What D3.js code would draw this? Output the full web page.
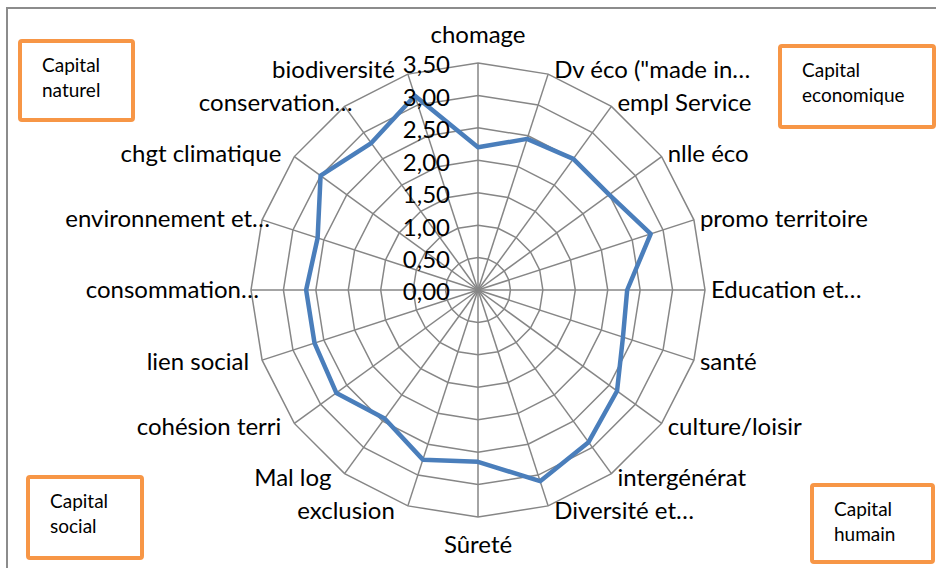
<!DOCTYPE html>
<html>
    <head>
        <style>
            body { margin: 0; background: #FFFFFF; }
            text { font-family: Lato, "Open Sans", sans-serif; fill: #000000; }
        </style>
    </head>
    <body>
        <script src="https://d3js.org/d3.v7.min.js"></script>
        <script type="text/javascript">
            // data
            var categories = ['chomage', 'Dv \u00e9co ("made in\u2026', 'empl Service', 'nlle \u00e9co',
                'promo territoire', 'Education et\u2026', 'sant\u00e9', 'culture/loisir', 'interg\u00e9n\u00e9rat',
                'Diversit\u00e9 et\u2026', 'S\u00fbret\u00e9', 'exclusion', 'Mal log', 'coh\u00e9sion terri',
                'lien social', 'consommation\u2026', 'environnement et\u2026', 'chgt climatique',
                'conservation\u2026', 'biodiversit\u00e9'];
            var scores = [2.2, 2.45, 2.5, 2.5, 2.8, 2.3, 2.35, 2.65, 2.9, 3.1,
                2.65, 2.75, 2.45, 2.7, 2.65, 2.65, 2.6, 3.0, 2.8, 3.15];
            var tickValues = [0, 0.5, 1, 1.5, 2, 2.5, 3, 3.5];
            var capitalNames = [['Capital', 'naturel'], ['Capital', 'economique'],
                ['Capital', 'social'], ['Capital', 'humain']];

            var svgWidth = 936, svgHeight = 568;
            var svg = d3.select('body')
                .append('svg')
                .attr('width', svgWidth)
                .attr('height', svgHeight);

            // chart frame (only its left and top edges are in view)
            svg.append('rect')
                .attr('x', 7).attr('y', 8)
                .attr('width', 960).attr('height', 600)
                .attr('fill', 'none')
                .attr('stroke', '#8C8C8C')
                .attr('stroke-width', 2);

            var cx = 478, cy = 290, outerRadius = 227;
            var labelSize = 24;
            var rScale = d3.scaleLinear().domain([0, 3.5]).range([0, outerRadius]);
            var angleScale = d3.scaleLinear().domain([0, categories.length]).range([0, 2 * Math.PI]);
            var frFormat = d3.formatLocale({ decimal: ',', thousands: ' ', grouping: [3], currency: ['', '\u20ac'] }).format('.2f');

            function pointAt(i, v) {
                var a = angleScale(i);
                return [cx + Math.sin(a) * rScale(v), cy - Math.cos(a) * rScale(v)];
            }

            var chart = svg.append('g');

            // rings
            chart.selectAll('.ring')
                .data(tickValues.filter(function (t) { return t > 0; }))
                .enter()
                .append('polygon')
                .attr('class', 'ring')
                .attr('points', function (t) {
                    return categories.map(function (c, i) { return pointAt(i, t).join(','); }).join(' ');
                })
                .attr('fill', 'none')
                .attr('stroke', '#868686')
                .attr('stroke-width', 1.5);

            // spokes
            chart.selectAll('.spoke')
                .data(categories)
                .enter()
                .append('line')
                .attr('class', 'spoke')
                .attr('x1', cx).attr('y1', cy)
                .attr('x2', function (c, i) { return pointAt(i, 3.5)[0]; })
                .attr('y2', function (c, i) { return pointAt(i, 3.5)[1]; })
                .attr('stroke', '#868686')
                .attr('stroke-width', 1.5);

            // series
            var line = d3.line().curve(d3.curveLinearClosed);
            chart.append('path')
                .attr('d', line(scores.map(function (v, i) { return pointAt(i, v); })))
                .attr('fill', 'none')
                .attr('stroke', '#4A7EBB')
                .attr('stroke-width', 4.5)
                .attr('stroke-linejoin', 'round');

            // value axis labels
            chart.selectAll('.tick')
                .data(tickValues)
                .enter()
                .append('text')
                .attr('class', 'tick')
                .attr('x', cx - 28)
                .attr('y', function (t) { return cy - rScale(t) + 2; })
                .attr('dy', '0.35em')
                .attr('text-anchor', 'end')
                .attr('font-size', labelSize)
                .text(frFormat);

            // category labels
            chart.selectAll('.cat')
                .data(categories)
                .enter()
                .append('text')
                .attr('class', 'cat')
                .attr('font-size', labelSize)
                .attr('dy', '0.35em')
                .each(function (c, i) {
                    var a = angleScale(i), s = Math.sin(a), co = Math.cos(a);
                    var p = pointAt(i, 3.5);
                    var el = d3.select(this), x = p[0], y = p[1] - 5 * co;
                    if (Math.abs(s) < 0.05) {
                        el.attr('text-anchor', 'middle');
                        y = p[1] - co * 28;
                    } else if (s > 0) {
                        el.attr('text-anchor', 'start');
                        x = p[0] + 6;
                    } else {
                        el.attr('text-anchor', 'end');
                        x = p[0] + (c.slice(-1) === '\u2026' ? 8 : -13);
                    }
                    el.attr('x', x).attr('y', y);
                })
                .text(function (c) { return c; });

            // orange "Capital" boxes
            var boxes = [
                { x: 20, y: 41, w: 113, h: 79 },
                { x: 780, y: 46, w: 154, h: 81 },
                { x: 28, y: 477, w: 114, h: 81 },
                { x: 812, y: 485, w: 121, h: 77 }
            ];
            var boxGroups = svg.selectAll('.capital')
                .data(capitalNames)
                .enter()
                .append('g')
                .attr('class', 'capital')
                .attr('transform', function (d, i) { return 'translate(' + boxes[i].x + ',' + boxes[i].y + ')'; });

            boxGroups.append('rect')
                .attr('width', function (d, i) { return boxes[i].w; })
                .attr('height', function (d, i) { return boxes[i].h; })
                .attr('rx', 2)
                .attr('fill', '#FFFFFF')
                .attr('stroke', '#F79646')
                .attr('stroke-width', 4);

            boxGroups.selectAll('text')
                .data(function (d) { return d; })
                .enter()
                .append('text')
                .attr('x', 22)
                .attr('y', function (d, j) { return 31 + j * 25; })
                .attr('font-size', 19)
                .text(function (d) { return d; });
        </script>
    </body>
</html>
